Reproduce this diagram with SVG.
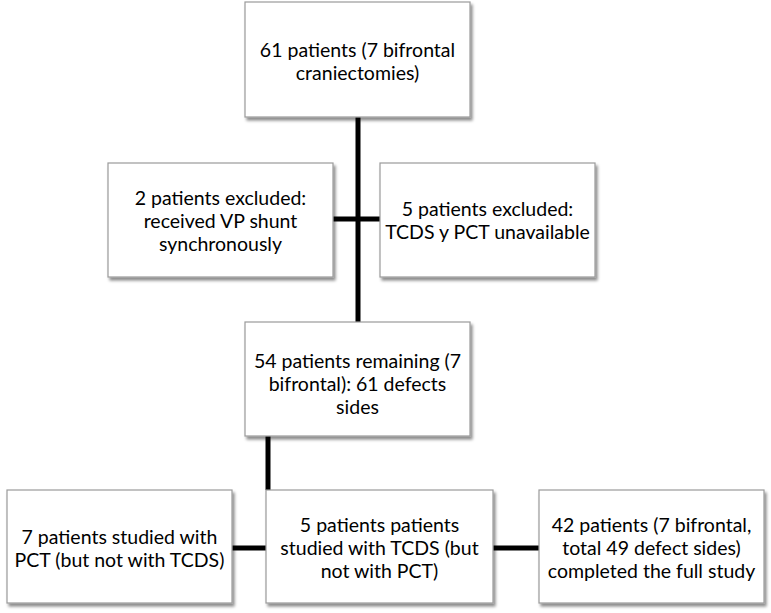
<svg xmlns="http://www.w3.org/2000/svg" width="771" height="613" viewBox="0 0 771 613">
<defs>
<filter id="sh" x="-10%" y="-10%" width="125%" height="125%">
<feDropShadow dx="2" dy="3" stdDeviation="1.5" flood-color="#000" flood-opacity="0.45"/>
</filter>
</defs>
<style>
.box{fill:#fff;stroke:#9a9a9a;stroke-width:1.2;filter:url(#sh)}
.t{font-family:Lato,"Liberation Sans",Arial,sans-serif;font-size:19.5px;fill:#000;text-anchor:middle}
.c{stroke:#000;stroke-width:5;fill:none}
</style>
<rect width="771" height="613" fill="#fff"/>
<g id="connectors">
<line class="c" x1="358" y1="117" x2="358" y2="322"/>
<line class="c" x1="333" y1="219" x2="380" y2="219"/>
<line class="c" x1="268" y1="436" x2="268" y2="490"/>
<line class="c" x1="232" y1="548" x2="267" y2="548"/>
<line class="c" x1="493" y1="548" x2="539" y2="548"/>
</g>
<g id="n1">
<rect class="box" x="245" y="2" width="225" height="115"/>
<text class="t" x="357.5" y="57">61 patients (7 bifrontal</text>
<text class="t" x="357.5" y="80">craniectomies)</text>
</g>
<g id="n2">
<rect class="box" x="108" y="163" width="225" height="114"/>
<text class="t" x="220.5" y="205">2 patients excluded:</text>
<text class="t" x="220.5" y="228">received VP shunt</text>
<text class="t" x="220.5" y="251">synchronously</text>
</g>
<g id="n3">
<rect class="box" x="380" y="163" width="215" height="114"/>
<text class="t" x="487.5" y="216">5 patients excluded:</text>
<text class="t" x="487.5" y="239">TCDS y PCT unavailable</text>
</g>
<g id="n4">
<rect class="box" x="245" y="322" width="225" height="114"/>
<text class="t" x="357.5" y="368">54 patients remaining (7</text>
<text class="t" x="357.5" y="391">bifrontal): 61 defects</text>
<text class="t" x="357.5" y="414">sides</text>
</g>
<g id="n5">
<rect class="box" x="7" y="490" width="225" height="113"/>
<text class="t" x="119.5" y="544">7 patients studied with</text>
<text class="t" x="119.5" y="567">PCT (but not with TCDS)</text>
</g>
<g id="n6">
<rect class="box" x="266" y="490" width="227" height="113"/>
<text class="t" x="379.5" y="532">5 patients patients</text>
<text class="t" x="379.5" y="555">studied with TCDS (but</text>
<text class="t" x="379.5" y="578">not with PCT)</text>
</g>
<g id="n7">
<rect class="box" x="539" y="490" width="225" height="113"/>
<text class="t" x="651.5" y="532">42 patients (7 bifrontal,</text>
<text class="t" x="651.5" y="555">total 49 defect sides)</text>
<text class="t" x="651.5" y="578">completed the full study</text>
</g>
</svg>
